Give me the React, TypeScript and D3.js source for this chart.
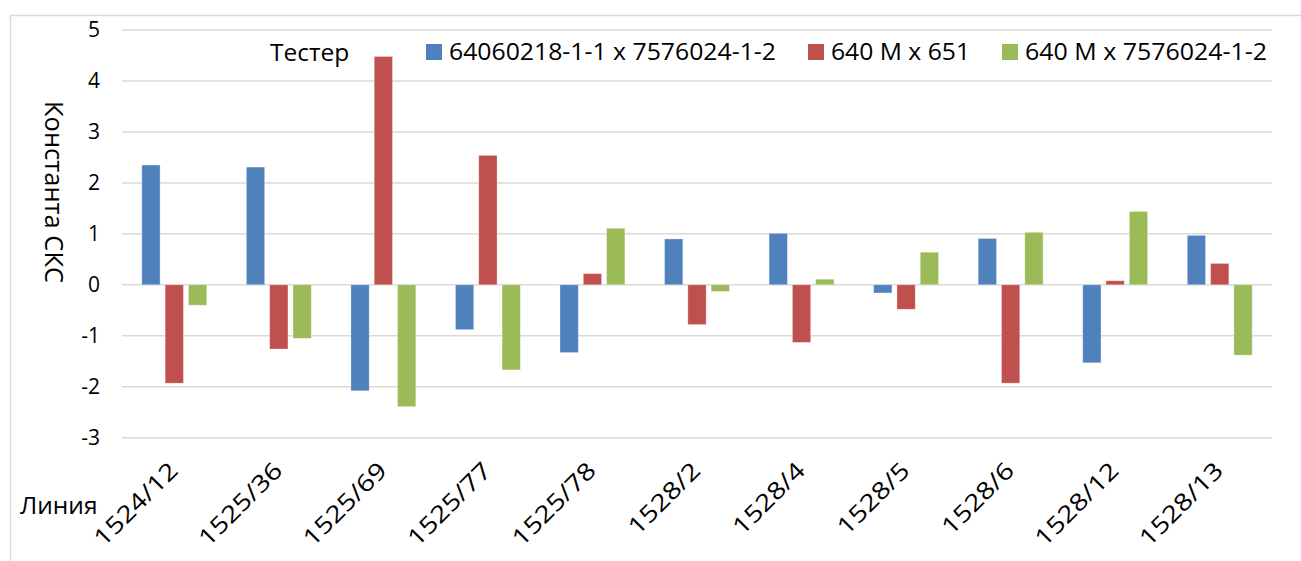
import { useEffect, useRef } from "react";
import * as d3 from "d3";

const categories = [
  "1524/12", "1525/36", "1525/69", "1525/77", "1525/78", "1528/2",
  "1528/4", "1528/5", "1528/6", "1528/12", "1528/13",
];
const seriesNames = [
  "64060218-1-1 x 7576024-1-2",
  "640 M x 651",
  "640 M x 7576024-1-2",
];
const blueValues = [2.35, 2.31, -2.08, -0.88, -1.33, 0.9, 1.01, -0.16, 0.91, -1.53, 0.97];
const redValues = [-1.93, -1.26, 4.48, 2.54, 0.22, -0.78, -1.13, -0.48, -1.93, 0.08, 0.42];
const greenValues = [-0.4, -1.05, -2.39, -1.67, 1.11, -0.13, 0.11, 0.64, 1.03, 1.44, -1.38];
const yTicks = [-3, -2, -1, 0, 1, 2, 3, 4, 5];
const colors = ["#4F81BD", "#C0504D", "#9BBB59"];

const App = () => {
  const svgRef = useRef<SVGSVGElement>(null);

  useEffect(() => {
    const svg = d3.select(svgRef.current);
    svg.selectAll("*").remove();

    const width = 1301;
    const height = 561;
    const margin = { top: 30, right: 29, bottom: 123, left: 122 };
    const font = "'Open Sans', sans-serif";
    const allValues = [blueValues, redValues, greenValues];

    // outer frame (only top and left are visible)
    svg.append("line")
      .attr("x1", 10).attr("x2", width).attr("y1", 15.5).attr("y2", 15.5)
      .attr("stroke", "#d9d9d9").attr("stroke-width", 1.5);
    svg.append("line")
      .attr("x1", 10.5).attr("x2", 10.5).attr("y1", 15).attr("y2", height)
      .attr("stroke", "#d9d9d9").attr("stroke-width", 1.5);

    const x0 = d3.scaleBand()
      .domain(categories)
      .range([margin.left, width - margin.right])
      .paddingInner(0)
      .paddingOuter(0);

    const x1 = d3.scaleBand()
      .domain(seriesNames)
      .range([0, x0.bandwidth()])
      .paddingInner(0.215)
      .paddingOuter(0.85);

    const y = d3.scaleLinear()
      .domain([-3, 5])
      .range([height - margin.bottom - 0.3, margin.top]);

    // gridlines
    svg.append("g")
      .selectAll("line")
      .data(yTicks)
      .enter()
      .append("line")
      .attr("x1", margin.left)
      .attr("x2", width - margin.right)
      .attr("y1", d => y(d))
      .attr("y2", d => y(d))
      .attr("stroke", "#d9d9d9")
      .attr("stroke-width", 1.5);

    // y tick labels
    svg.append("g")
      .selectAll("text")
      .data(yTicks)
      .enter()
      .append("text")
      .attr("x", 100)
      .attr("y", d => y(d))
      .attr("dy", "0.35em")
      .attr("text-anchor", "end")
      .attr("font-family", font)
      .attr("font-size", 21)
      .attr("fill", "#000")
      .text(d => d);

    // bars
    seriesNames.forEach((name, s) => {
      svg.append("g")
        .selectAll("rect")
        .data(allValues[s])
        .enter()
        .append("rect")
        .attr("x", (_, i) => (x0(categories[i]) ?? 0) + (x1(name) ?? 0))
        .attr("y", d => y(Math.max(0, d)))
        .attr("width", x1.bandwidth())
        .attr("height", d => Math.abs(y(d) - y(0)))
        .attr("fill", colors[s])
        .attr("stroke", "#ffffff")
        .attr("stroke-opacity", 0.4)
        .attr("stroke-width", 0.8);
    });

    // x labels rotated, slightly widened like the original
    svg.append("g")
      .selectAll("text")
      .data(categories)
      .enter()
      .append("text")
      .attr("transform", d => {
        const cx = (x0(d) ?? 0) + x0.bandwidth() / 2 + 5;
        return `translate(${cx},472) rotate(-45) scale(1.2,1)`;
      })
      .attr("text-anchor", "end")
      .attr("font-family", font)
      .attr("font-size", 23.5)
      .attr("fill", "#000")
      .text(d => d);

    // axis titles
    svg.append("text")
      .attr("x", 20)
      .attr("y", 514)
      .attr("font-family", font)
      .attr("font-size", 24.5)
      .attr("fill", "#000")
      .text("Линия");

    svg.append("text")
      .attr("transform", "translate(45,192) rotate(90)")
      .attr("text-anchor", "middle")
      .attr("font-family", font)
      .attr("font-size", 25.5)
      .attr("fill", "#000")
      .text("Константа СКС");

    // legend
    const legend = svg.append("g");
    legend.append("text")
      .attr("x", 270)
      .attr("y", 61)
      .attr("font-family", font)
      .attr("font-size", 24.5)
      .attr("fill", "#000")
      .text("Тестер");

    const legendX = [426, 808, 1002];
    const legendW = [327, 139, 242];
    seriesNames.forEach((name, s) => {
      legend.append("rect")
        .attr("x", legendX[s])
        .attr("y", 44)
        .attr("width", 16)
        .attr("height", 16)
        .attr("fill", colors[s]);
      legend.append("text")
        .attr("x", legendX[s] + 23)
        .attr("y", 60)
        .attr("font-family", font)
        .attr("font-size", 23)
        .attr("textLength", legendW[s])
        .attr("lengthAdjust", "spacingAndGlyphs")
        .attr("fill", "#000")
        .text(name);
    });
  }, []);

  return (
    <svg
      ref={svgRef}
      width={1301}
      height={561}
      style={{ position: "absolute", left: 0, top: 0, background: "#fff" }}
    />
  );
};

export default App;
